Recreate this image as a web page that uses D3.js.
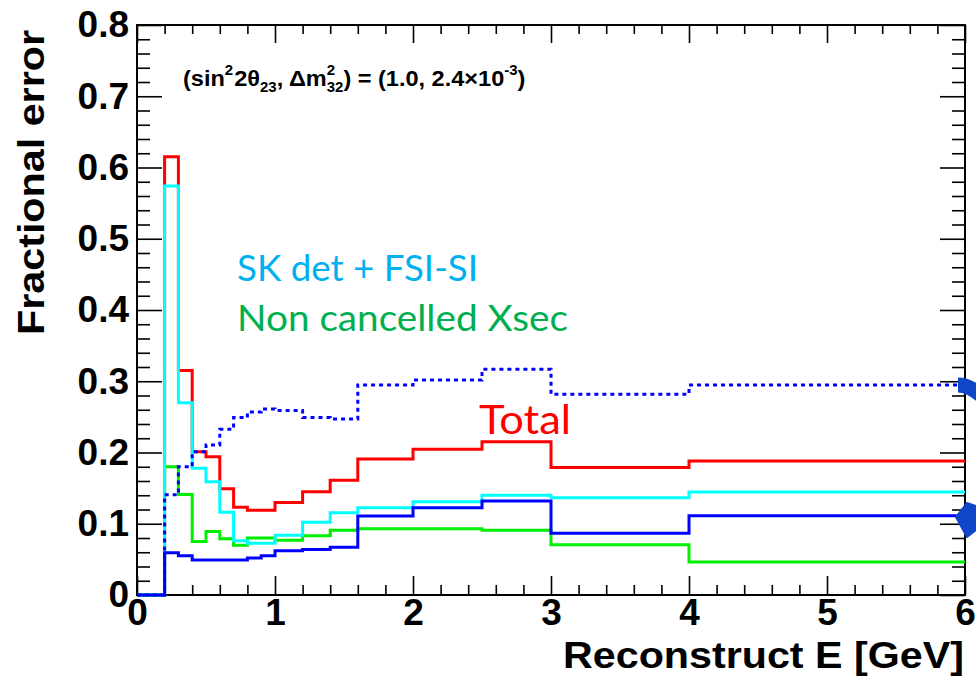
<!DOCTYPE html>
<html>
<head>
<meta charset="utf-8">
<script src="https://cdn.jsdelivr.net/npm/d3@7"></script>
<style>
  html, body { margin: 0; padding: 0; background: #fff; }
  svg { display: block; }
</style>
</head>
<body>
<svg id="chart" width="976" height="684"></svg>
<script>
// Bin edges of the reconstructed-energy histogram (GeV)
const binEdges = [0, 0.2, 0.3, 0.4, 0.5, 0.6, 0.7, 0.8, 0.9, 1.0, 1.2, 1.4, 1.6, 2.0, 2.5, 3.0, 4.0, 6.0];

// Fractional error per bin
const totalErr   = [0, 0.615, 0.315, 0.201, 0.194, 0.149, 0.123, 0.119, 0.119, 0.130, 0.145, 0.161, 0.191, 0.2045, 0.215, 0.179, 0.188];
const skDetErr   = [0, 0.574, 0.270, 0.178, 0.159, 0.116, 0.076, 0.0725, 0.0725, 0.084, 0.102, 0.1155, 0.1226, 0.131, 0.140, 0.1366, 0.1446];
const xsecErr    = [0, 0.180, 0.141, 0.075, 0.089, 0.079, 0.070, 0.080, 0.080, 0.077, 0.083, 0.091, 0.093, 0.093, 0.091, 0.0706, 0.0463];
const blueErr    = [0, 0.0594, 0.0552, 0.049, 0.049, 0.049, 0.049, 0.052, 0.055, 0.062, 0.064, 0.067, 0.111, 0.1224, 0.132, 0.0866, 0.1113];
const dottedErr  = [0, 0.1408, 0.180, 0.201, 0.2105, 0.2325, 0.249, 0.257, 0.261, 0.259, 0.249, 0.247, 0.2947, 0.3018, 0.3167, 0.2816, 0.2947];

// Axis tick labels
const xTickValues = [0, 1, 2, 3, 4, 5, 6];
const yTickValues = [0, 0.1, 0.2, 0.3, 0.4, 0.5, 0.6, 0.7, 0.8];

const svg = d3.select("#chart");
const W = 976, H = 684;
const margin = { left: 137, top: 25, right: 11, bottom: 89 };
const x = d3.scaleLinear().domain([0, 6]).range([margin.left, W - margin.right]);
const y = d3.scaleLinear().domain([0, 0.8]).range([H - margin.bottom, margin.top]);

const axisFont = "'Liberation Sans', Arial, Helvetica, sans-serif";
const labelFont = "Lato, 'Open Sans', 'Noto Sans', sans-serif";

// ---- axes (ROOT-style ticks on all four sides) ----
const yMinor = d3.range(0, 0.8001, 0.02).filter(v => Math.abs(Math.round(v * 10) - v * 10) > 1e-6);
const xMinor = d3.range(0, 6.0001, 0.2).filter(v => Math.abs(Math.round(v) - v) > 1e-6);

function styleAxis(g) {
  g.select(".domain").remove();
  g.selectAll(".tick line").attr("stroke", "#000").attr("stroke-width", 1.6);
}

// left
svg.append("g").attr("transform", `translate(${margin.left},0)`)
  .call(d3.axisLeft(y).tickValues(yMinor).tickSize(-13).tickFormat(""))
  .call(styleAxis);
svg.append("g").attr("transform", `translate(${margin.left},0)`)
  .call(d3.axisLeft(y).tickValues(yTickValues).tickSize(-25).tickPadding(8)
    .tickFormat(d => d === 0 ? "0" : d3.format(".1f")(d)))
  .call(styleAxis)
  .call(g => g.selectAll("text")
    .attr("font-family", axisFont).attr("font-weight", "bold")
    .attr("font-size", 37).attr("fill", "#000"));

// right
svg.append("g").attr("transform", `translate(${W - margin.right},0)`)
  .call(d3.axisRight(y).tickValues(yMinor).tickSize(-13).tickFormat(""))
  .call(styleAxis);
svg.append("g").attr("transform", `translate(${W - margin.right},0)`)
  .call(d3.axisRight(y).tickValues(yTickValues).tickSize(-25).tickFormat(""))
  .call(styleAxis);

// bottom
svg.append("g").attr("transform", `translate(0,${H - margin.bottom})`)
  .call(d3.axisBottom(x).tickValues(xMinor).tickSize(-10).tickFormat(""))
  .call(styleAxis);
svg.append("g").attr("transform", `translate(0,${H - margin.bottom})`)
  .call(d3.axisBottom(x).tickValues(xTickValues).tickSize(-19).tickPadding(4).tickFormat(d3.format("d")))
  .call(styleAxis)
  .call(g => g.selectAll("text")
    .attr("font-family", axisFont).attr("font-weight", "bold")
    .attr("font-size", 37).attr("fill", "#000"));

// top
svg.append("g").attr("transform", `translate(0,${margin.top})`)
  .call(d3.axisTop(x).tickValues(xMinor).tickSize(-9).tickFormat(""))
  .call(styleAxis);
svg.append("g").attr("transform", `translate(0,${margin.top})`)
  .call(d3.axisTop(x).tickValues(xTickValues).tickSize(-18).tickFormat(""))
  .call(styleAxis);

// frame
svg.append("rect")
  .attr("x", x(0)).attr("y", y(0.8))
  .attr("width", x(6) - x(0)).attr("height", y(0) - y(0.8))
  .attr("fill", "none").attr("stroke", "#000").attr("stroke-width", 2);

// axis titles
svg.append("text")
  .attr("transform", `translate(44,${y(0.8) + 5}) rotate(-90)`)
  .attr("text-anchor", "end")
  .attr("font-family", axisFont).attr("font-weight", "bold").attr("font-size", 37)
  .attr("textLength", 305).attr("lengthAdjust", "spacingAndGlyphs")
  .text("Fractional error");

svg.append("text")
  .attr("x", 964).attr("y", 668)
  .attr("text-anchor", "end")
  .attr("font-family", axisFont).attr("font-weight", "bold").attr("font-size", 37)
  .attr("textLength", 401).attr("lengthAdjust", "spacingAndGlyphs")
  .text("Reconstruct E [GeV]");

// ---- histogram step outlines ----
const stepLine = d3.line()
  .x(d => x(d[0])).y(d => y(d[1]))
  .curve(d3.curveStepAfter);

function histPoints(values) {
  const pts = values.map((v, i) => [binEdges[i], v]);
  pts.push([binEdges[binEdges.length - 1], values[values.length - 1]]);
  return pts;
}

const series = [
  { values: totalErr,  color: "#ff0000", dash: null },
  { values: xsecErr,   color: "#00ee00", dash: null },
  { values: skDetErr,  color: "#00ffff", dash: null },
  { values: blueErr,   color: "#0000ff", dash: null },
  { values: dottedErr, color: "#0000ff", dash: "4,4" }
];

const plot = svg.append("g");
series.forEach(s => {
  plot.append("path")
    .attr("d", stepLine(histPoints(s.values)))
    .attr("fill", "none")
    .attr("stroke", s.color)
    .attr("stroke-width", 3)
    .attr("stroke-dasharray", s.dash)
    .attr("stroke-linejoin", "miter");
});

// ---- oscillation parameters annotation (one text, positioned tspans) ----
(function annotation() {
  const x0 = 183, base = 86, fs = 22, small = 14;
  const sup = -11, sub = 6;
  const g = svg.append("g")
    .attr("transform", `translate(${x0},0) scale(1.07,1) translate(${-x0},0)`)
    .attr("font-family", axisFont).attr("font-weight", "bold").attr("fill", "#000");

  // measure a run of text at a given size
  function measure(str, size) {
    const t = g.append("text").attr("font-size", size).text(str);
    const w = t.node().getComputedTextLength();
    t.remove();
    return w;
  }

  const pieces = [
    { s: "(sin", size: fs, dy: 0 },
    { s: "2", size: small, dy: sup, pad: 1 },
    { s: "2\u03B8", size: fs, dy: 0 },
    { s: "23", size: small, dy: sub },
    { s: ", \u0394m", size: fs, dy: 0 },
    { s: "2", size: small, dy: sup },
    { s: "32", size: small, dy: sub, stacked: true },
    { s: ") = (1.0, 2.4\u00D710", size: fs, dy: 0 },
    { s: "-3", size: small, dy: sup },
    { s: ")", size: fs, dy: 0 }
  ];

  const text = g.append("text");
  let cx = x0, lastX = x0;
  pieces.forEach(p => {
    const w = measure(p.s, p.size);
    const px = p.stacked ? lastX : cx;
    text.append("tspan")
      .attr("x", px).attr("y", base + p.dy)
      .attr("font-size", p.size).text(p.s);
    if (p.stacked) {
      cx = Math.max(cx, px + w);
    } else {
      lastX = cx;
      cx += w + (p.pad || 0);
    }
  });
})();

// ---- series labels ----
svg.append("text")
  .attr("x", 237).attr("y", 281)
  .attr("font-family", labelFont).attr("font-size", 36).attr("fill", "#00b0f0")
  .attr("textLength", 241).attr("lengthAdjust", "spacingAndGlyphs")
  .text("SK det + FSI-SI");
svg.append("text")
  .attr("x", 237).attr("y", 331)
  .attr("font-family", labelFont).attr("font-size", 36).attr("fill", "#00b050")
  .attr("textLength", 331).attr("lengthAdjust", "spacingAndGlyphs")
  .text("Non cancelled Xsec");
svg.append("text")
  .attr("x", 479).attr("y", 434)
  .attr("font-family", labelFont).attr("font-size", 40).attr("fill", "#ff0000")
  .attr("textLength", 92).attr("lengthAdjust", "spacingAndGlyphs")
  .text("Total");

// ---- callout arrows at the right edge ----
const arrowColor = "#0f45c8";
svg.append("path")
  .attr("d", "M958,385 Q969,385 982,396")
  .attr("fill", "none").attr("stroke", arrowColor).attr("stroke-width", 15)
  .attr("stroke-linejoin", "round");
svg.append("path")
  .attr("d", "M956,517 L967,503 L976,506 L976,530 L967,537 Z")
  .attr("fill", arrowColor).attr("stroke", arrowColor).attr("stroke-width", 2)
  .attr("stroke-linejoin", "round");
</script>
</body>
</html>
